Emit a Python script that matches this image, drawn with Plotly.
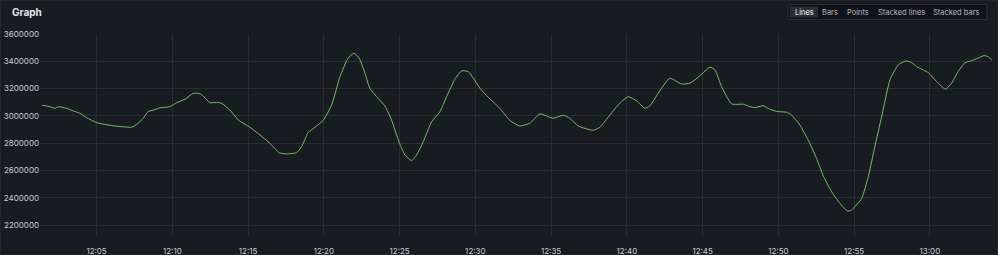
import plotly.graph_objects as go

DAY = "2024-01-01 "
times = [
    "12:01:25", "12:01:55", "12:02:15", "12:02:28", "12:03:01", "12:03:27", "12:03:54", "12:04:20",
    "12:05:00", "12:05:40", "12:06:19", "12:06:59", "12:07:19", "12:07:45", "12:08:05", "12:08:24",
    "12:08:44", "12:09:11", "12:09:50", "12:10:17", "12:10:50", "12:11:23", "12:11:49", "12:12:02",
    "12:12:29", "12:12:55", "12:13:15", "12:13:48", "12:14:21", "12:15:07", "12:15:47", "12:16:26",
    "12:17:03", "12:17:32", "12:18:12", "12:18:32", "12:18:58", "12:19:25", "12:19:57", "12:20:31",
    "12:21:04", "12:21:36", "12:21:59", "12:22:20", "12:22:43", "12:23:02", "12:23:29", "12:24:02",
    "12:24:28", "12:24:55", "12:25:21", "12:25:48", "12:26:07", "12:26:34", "12:27:07", "12:27:40",
    "12:28:06", "12:28:39", "12:29:06", "12:29:32", "12:29:52", "12:30:18", "12:30:51", "12:31:37",
    "12:32:17", "12:32:55", "12:33:36", "12:34:16", "12:35:08", "12:35:48", "12:36:14", "12:36:47",
    "12:37:47", "12:38:13", "12:38:53", "12:39:32", "12:40:05", "12:40:39", "12:41:11", "12:41:31",
    "12:42:04", "12:42:50", "12:43:37", "12:44:10", "12:44:49", "12:45:29", "12:45:49", "12:46:15",
    "12:46:55", "12:47:41", "12:48:07", "12:48:27", "12:49:00", "12:49:26", "12:49:59", "12:50:33",
    "12:50:52", "12:51:25", "12:51:58", "12:52:31", "12:52:58", "12:53:31", "12:54:04", "12:54:33",
    "12:54:50", "12:55:30", "12:55:56", "12:56:22", "12:56:49", "12:57:22", "12:57:55", "12:58:25",
    "12:58:48", "12:59:08", "12:59:54", "13:00:27", "13:01:02", "13:01:26", "13:01:52", "13:02:19",
    "13:02:45", "13:03:11", "13:03:34", "13:03:51", "13:04:05",
]
values = [
    3078000, 3068000, 3056000, 3068000, 3056000, 3037000, 3020000, 2988000,
    2951000, 2936000, 2925000, 2919000, 2917000, 2947000, 2983000, 3032000,
    3042000, 3059000, 3068000, 3097000, 3122000, 3166000, 3163000, 3147000,
    3097000, 3100000, 3093000, 3044000, 2971000, 2917000, 2861000, 2800000,
    2731000, 2722000, 2731000, 2775000, 2878000, 2917000, 2966000, 3081000,
    3288000, 3423000, 3459000, 3423000, 3313000, 3203000, 3141000, 3073000,
    2971000, 2824000, 2714000, 2673000, 2714000, 2812000, 2958000, 3032000,
    3141000, 3269000, 3330000, 3325000, 3276000, 3203000, 3137000, 3056000,
    2967000, 2927000, 2947000, 3015000, 2983000, 3005000, 2983000, 2927000,
    2895000, 2917000, 3007000, 3093000, 3141000, 3110000, 3056000, 3073000,
    3166000, 3276000, 3234000, 3240000, 3293000, 3357000, 3337000, 3215000,
    3088000, 3086000, 3068000, 3061000, 3075000, 3049000, 3032000, 3027000,
    3007000, 2934000, 2824000, 2690000, 2560000, 2445000, 2360000, 2304000,
    2311000, 2397000, 2555000, 2775000, 2995000, 3264000, 3374000, 3403000,
    3390000, 3361000, 3317000, 3251000, 3196000, 3240000, 3325000, 3390000,
    3405000, 3423000, 3442000, 3434000, 3410000,
]
x_range = ["12:01:16", "13:04:06"]
y_range = [2121000, 3600000]
y_ticks = [2200000, 2400000, 2600000, 2800000, 3000000, 3200000, 3400000, 3600000]
title = "Graph"
modes = ["Lines", "Bars", "Points", "Stacked lines", "Stacked bars"]

BG = "#181b1f"
GRID = "#2a2c31"
TXT = "#ccccdc"
FONT = "Inter"

W, H = 998, 255
ML, MR, MT, MB = 40, 6, 34, 19
PW, PH = W - ML - MR, H - MT - MB

fig = go.Figure()
fig.add_trace(go.Scatter(
    x=[DAY + t for t in times], y=values, mode="lines",
    line=dict(color="#73bf69", width=1, shape="spline", smoothing=0.5),
    hoverinfo="skip", showlegend=False,
))

def px_x(p):
    return (p - ML) / PW

def px_y(p):
    return 1 - (p - MT) / PH

shapes = [
    dict(type="rect", xref="paper", yref="paper", x0=px_x(0.5), x1=px_x(W - 0.5),
         y0=px_y(H - 0.5), y1=px_y(0.5), line=dict(color="#24262b", width=1),
         fillcolor="rgba(0,0,0,0)", layer="below"),
    dict(type="rect", xref="paper", yref="paper", x0=px_x(788), x1=px_x(987),
         y0=px_y(19.5), y1=px_y(4.5), line=dict(color="#2c2f35", width=1),
         fillcolor="#111217", layer="above"),
    dict(type="rect", xref="paper", yref="paper", x0=px_x(790), x1=px_x(818),
         y0=px_y(17.5), y1=px_y(6.5), line=dict(width=0),
         fillcolor="#2a2d33", layer="above"),
]

annotations = [
    dict(text="<b>" + title + "</b>", xref="paper", yref="paper", x=px_x(10), y=px_y(12.5),
         xanchor="left", yanchor="middle", showarrow=False,
         font=dict(family=FONT, size=10, color="#e6e7ee")),
]
centers = [804, 830, 858, 901, 956]
for m, cx in zip(modes, centers):
    annotations.append(dict(
        text=m, xref="paper", yref="paper", x=px_x(cx), y=px_y(12.3),
        xanchor="center", yanchor="middle", showarrow=False,
        font=dict(family=FONT, size=7.5, color="#ffffff" if m == "Lines" else "#b8b9c4"),
    ))

fig.update_layout(
    width=W, height=H,
    margin=dict(l=ML, r=MR, t=MT, b=MB, pad=0, autoexpand=False),
    paper_bgcolor=BG, plot_bgcolor=BG,
    font=dict(family=FONT, size=8, color=TXT),
    shapes=shapes, annotations=annotations,
    xaxis=dict(
        type="date", range=[DAY + x_range[0], DAY + x_range[1]],
        tickformat="%H:%M", dtick=300000, tick0=DAY + "12:00:00",
        showgrid=True, gridcolor=GRID, gridwidth=1, zeroline=False, showline=False,
        ticks="outside", ticklen=7, tickcolor=BG, automargin=False,
        tickfont=dict(family=FONT, size=8, color=TXT),
    ),
    yaxis=dict(
        range=y_range, tickvals=y_ticks, ticktext=[str(v) for v in y_ticks],
        showgrid=True, gridcolor=GRID, gridwidth=1, zeroline=False, showline=False,
        ticks="", automargin=False, tickfont=dict(family=FONT, size=8, color=TXT),
    ),
)

fig.write_html("out.html")
